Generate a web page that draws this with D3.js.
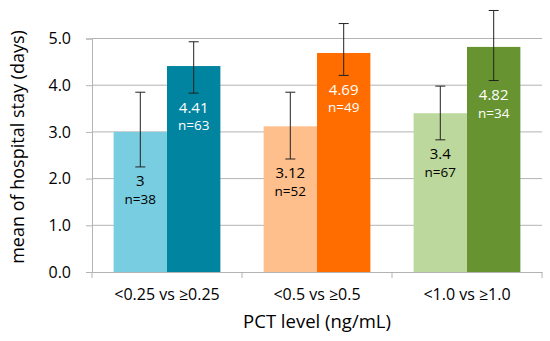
<!DOCTYPE html>
<html>
<head>
<meta charset="utf-8">
<style>
body{ margin:0; background:#fff; }
text{ font-family: "Open Sans", sans-serif; }
.grid line{ stroke:#b3b3b3; stroke-width:1; }
.err{ stroke:#222; stroke-width:1; }
</style>
<script src="https://d3js.org/d3.v7.min.js"></script>
</head>
<body>
<script>
var w = 550;
var h = 341;

// chart values
var categories = ["<0.25 vs \u22650.25", "<0.5 vs \u22650.5", "<1.0 vs \u22651.0"];
var lowMeans = [3, 3.12, 3.4];
var highMeans = [4.41, 4.69, 4.82];
var lowN = [38, 52, 67];
var highN = [63, 49, 34];
var lowErrTop = [3.85, 3.85, 3.98];
var lowErrBot = [2.25, 2.42, 2.83];
var highErrTop = [4.93, 5.32, 5.6];
var highErrBot = [3.83, 4.21, 4.1];
var lowLabels = ["3", "3.12", "3.4"];
var highLabels = ["4.41", "4.69", "4.82"];
var lowColors = ["#78cde0", "#ffbf8c", "#bdd89c"];
var highColors = ["#00849f", "#ff6d00", "#679431"];
var yTicks = [0, 1, 2, 3, 4, 5];

var mLeft = 92, mRight = 542, mTop = 38.5, mBottom = 272;

var xScale = d3.scaleBand().domain(categories).range([mLeft, mRight]).padding(0);
var inner = d3.scaleBand().domain(["low", "high"]).range([0, xScale.bandwidth()])
              .paddingInner(0).paddingOuter(0.405);
var yScale = d3.scaleLinear().domain([0, 5]).range([mBottom, mTop]);

var svg = d3.select("body").append("svg").attr("width", w).attr("height", h);

// gridlines
svg.append("g").attr("class", "grid")
   .selectAll("line").data(yTicks.slice(1)).enter().append("line")
   .attr("x1", mLeft).attr("x2", mRight)
   .attr("y1", function(d){ return yScale(d); })
   .attr("y2", function(d){ return yScale(d); });

// y axis
var yAxis = svg.append("g").attr("transform", "translate(" + mLeft + ",0)")
   .call(d3.axisLeft(yScale).tickValues(yTicks).tickFormat(d3.format(".1f")).tickSize(6).tickPadding(15));
yAxis.select(".domain").attr("stroke", "#b3b3b3");
yAxis.selectAll(".tick line").attr("stroke", "#b3b3b3");
yAxis.selectAll(".tick text").attr("font-size", 16).attr("fill", "#000")
     .style("font-family", "'Open Sans', sans-serif");

// bars
var rows = categories.map(function(c, i){
    return [
        {cat: c, key: "low", v: lowMeans[i], n: lowN[i], t: lowErrTop[i], b: lowErrBot[i], lab: lowLabels[i], col: lowColors[i], tc: "#000"},
        {cat: c, key: "high", v: highMeans[i], n: highN[i], t: highErrTop[i], b: highErrBot[i], lab: highLabels[i], col: highColors[i], tc: "#fff"}
    ];
});
var flat = [].concat.apply([], rows);
var cx = function(d){ return xScale(d.cat) + inner(d.key) + inner.bandwidth() / 2; };

svg.append("g").selectAll("rect").data(flat).enter().append("rect")
   .attr("x", function(d){ return xScale(d.cat) + inner(d.key); })
   .attr("width", inner.bandwidth())
   .attr("y", function(d){ return yScale(d.v); })
   .attr("height", function(d){ return mBottom - yScale(d.v); })
   .attr("fill", function(d){ return d.col; });

// x axis
var xAxis = svg.append("g").attr("transform", "translate(0," + mBottom + ")")
   .call(d3.axisBottom(xScale).tickSize(0).tickPadding(17));
xAxis.select(".domain").attr("stroke", "#b3b3b3");
xAxis.selectAll(".tick text").attr("font-size", 16).attr("fill", "#000")
     .style("font-family", "'Open Sans', sans-serif");
xAxis.selectAll(".sep").data([mLeft].concat(categories.map(function(c){ return xScale(c) + xScale.bandwidth(); })))
     .enter().append("line").attr("class", "sep")
     .attr("x1", function(d){ return d; }).attr("x2", function(d){ return d; })
     .attr("y1", 0).attr("y2", 6).attr("stroke", "#b3b3b3");

// error bars
var err = svg.append("g").selectAll("g").data(flat).enter().append("g").attr("class", "err");
err.append("line").attr("x1", cx).attr("x2", cx)
   .attr("y1", function(d){ return yScale(d.t); }).attr("y2", function(d){ return yScale(d.b); });
err.append("line").attr("x1", function(d){ return cx(d) - 5; }).attr("x2", function(d){ return cx(d) + 5; })
   .attr("y1", function(d){ return yScale(d.t); }).attr("y2", function(d){ return yScale(d.t); });
err.append("line").attr("x1", function(d){ return cx(d) - 5; }).attr("x2", function(d){ return cx(d) + 5; })
   .attr("y1", function(d){ return yScale(d.b); }).attr("y2", function(d){ return yScale(d.b); });

// value labels
var labs = svg.append("g").selectAll("g").data(flat).enter().append("g");
labs.append("text").attr("x", cx).attr("y", function(d){ return yScale(d.b) + 19.5; })
    .attr("text-anchor", "middle").attr("font-size", 15)
    .attr("fill", function(d){ return d.tc; }).text(function(d){ return d.lab; });
labs.append("text").attr("x", cx).attr("y", function(d){ return yScale(d.b) + 37; })
    .attr("text-anchor", "middle").attr("font-size", 13.5)
    .attr("fill", function(d){ return d.tc; }).text(function(d){ return "n=" + d.n; });

// axis titles
svg.append("text").attr("x", (mLeft + mRight) / 2).attr("y", 328)
   .attr("text-anchor", "middle").attr("font-size", 18.5).text("PCT level (ng/mL)");
svg.append("text").attr("transform", "translate(24,147) rotate(-90)")
   .attr("text-anchor", "middle").attr("font-size", 18).text("mean of hospital stay (days)");
</script>
</body>
</html>
